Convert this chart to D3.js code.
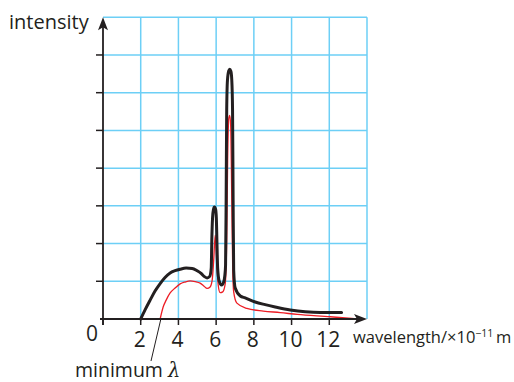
<!DOCTYPE html>
<html>
<head>
<meta charset="utf-8">
<script src="https://cdn.jsdelivr.net/npm/d3@7"></script>
<style>
  html, body { margin: 0; padding: 0; background: #fff; }
  svg { display: block; }
  text { font-family: "Open Sans", "Noto Sans", sans-serif; fill: #231f20; }
</style>
</head>
<body>
<svg id="chart" width="514" height="382"></svg>
<script>
// ---- data ----
const xTickValues = [0, 2, 4, 6, 8, 10, 12];
const xTickLabels = ["0", "2", "4", "6", "8", "10", "12"];
const yTickValues = [1, 2, 3, 4, 5, 6, 7];
const gridX = [2, 4, 6, 8, 10, 12, 14];
const gridY = [1, 2, 3, 4, 5, 6, 7, 8];

// black spectrum (higher accelerating voltage)
const blackLambda = [2.0, 2.23, 2.5, 2.76, 3.03, 3.29, 3.56, 3.82, 4.09, 4.41, 4.73, 4.99, 5.2, 5.36,
  5.52, 5.66, 5.74, 5.77, 5.81, 5.86, 5.91, 5.97, 6.01, 6.04, 6.08, 6.16, 6.29, 6.4,
  6.46, 6.5, 6.53, 6.56, 6.6, 6.67, 6.72, 6.78, 6.83, 6.87, 6.9, 6.93, 7.01, 7.28,
  7.54, 8.07, 8.6, 9.13, 9.93, 10.73, 11.53, 12.65];
const blackIntensity = [0, 0.24, 0.5, 0.74, 0.94, 1.10, 1.22, 1.28, 1.32, 1.35, 1.34, 1.28, 1.21, 1.13,
  1.09, 1.13, 1.35, 2.09, 2.68, 2.91, 2.97, 2.91, 2.68, 2.09, 1.35, 1.01, 0.90, 0.98,
  1.15, 1.43, 3.15, 5.54, 6.33, 6.58, 6.62, 6.57, 6.33, 5.54, 3.15, 1.30, 0.82, 0.61,
  0.56, 0.45, 0.38, 0.32, 0.24, 0.19, 0.17, 0.17];

// red spectrum (lower accelerating voltage)
const redLambda = [3.03, 3.19, 3.35, 3.56, 3.82, 4.09, 4.35, 4.62, 4.89, 5.15, 5.36, 5.52, 5.68, 5.79,
  5.87, 5.95, 6.03, 6.11, 6.21, 6.35, 6.48, 6.56, 6.61, 6.67, 6.72, 6.77, 6.83, 6.88,
  6.93, 7.1, 7.63, 8.5, 9.4, 10.3, 12.05, 13.5];
const redIntensity = [0, 0.32, 0.50, 0.69, 0.82, 0.93, 0.98, 1.01, 0.99, 0.95, 0.87, 0.81, 0.85, 1.03,
  1.56, 2.22, 1.51, 0.90, 0.70, 0.72, 0.93, 2.09, 4.21, 5.32, 5.40, 5.14, 3.15, 1.30,
  0.72, 0.42, 0.28, 0.21, 0.17, 0.12, 0.06, 0.0];

// ---- drawing ----
const svg = d3.select("#chart");
const ink = "#231f20";
const gridColor = "#6dcff6";

const x = d3.scaleLinear().domain([0, 14]).range([103, 367]);
const y = d3.scaleLinear().domain([0, 8]).range([319, 17.25]);

// grid
svg.append("g").selectAll("line").data(gridX).join("line")
  .attr("x1", d => x(d)).attr("x2", d => x(d))
  .attr("y1", y(0)).attr("y2", y(8))
  .attr("stroke", gridColor).attr("stroke-width", 1.5);
svg.append("g").selectAll("line").data(gridY).join("line")
  .attr("x1", x(0)).attr("x2", x(14))
  .attr("y1", d => y(d)).attr("y2", d => y(d))
  .attr("stroke", gridColor).attr("stroke-width", 1.5);

// curves
const line = d3.line().x(d => x(d[0])).y(d => y(d[1])).curve(d3.curveMonotoneX);
const redPts = redLambda.map((l, i) => [l, redIntensity[i]]);
const blackPts = blackLambda.map((l, i) => [l, blackIntensity[i]]);

svg.append("path").datum(redPts).attr("d", line)
  .attr("fill", "none").attr("stroke", "#ed1c24").attr("stroke-width", 1.3)
  .attr("stroke-linejoin", "round");
svg.append("path").datum(blackPts).attr("d", line)
  .attr("fill", "none").attr("stroke", ink).attr("stroke-width", 3)
  .attr("stroke-linejoin", "round").attr("stroke-linecap", "round");

// axes lines
svg.append("line").attr("x1", x(0) - 3).attr("x2", x(14) - 8)
  .attr("y1", y(0)).attr("y2", y(0)).attr("stroke", ink).attr("stroke-width", 1.8);
svg.append("line").attr("x1", x(0)).attr("x2", x(0))
  .attr("y1", y(0) + 6).attr("y2", y(8) + 8).attr("stroke", ink).attr("stroke-width", 1.8);

// arrowheads
svg.append("path")
  .attr("d", `M${x(14)},${y(0)} L${x(14) - 13},${y(0) - 5} L${x(14) - 10},${y(0)} L${x(14) - 13},${y(0) + 5} Z`)
  .attr("fill", ink);
svg.append("path")
  .attr("d", `M${x(0)},${y(8)} L${x(0) - 5},${y(8) + 13} L${x(0)},${y(8) + 10} L${x(0) + 5},${y(8) + 13} Z`)
  .attr("fill", ink);

// ticks
svg.append("g").selectAll("line").data(xTickValues).join("line")
  .attr("x1", d => x(d)).attr("x2", d => x(d))
  .attr("y1", y(0)).attr("y2", y(0) + 6)
  .attr("stroke", ink).attr("stroke-width", 1.5);
svg.append("g").selectAll("line").data(yTickValues).join("line")
  .attr("x1", x(0) - 7).attr("x2", x(0))
  .attr("y1", d => y(d)).attr("y2", d => y(d))
  .attr("stroke", ink).attr("stroke-width", 1.5);

// tick labels
svg.append("g").selectAll("text").data(xTickValues).join("text")
  .attr("x", (d, i) => i === 0 ? x(d) - 11 : x(d) - 1)
  .attr("y", (d, i) => i === 0 ? 341 : 347)
  .attr("text-anchor", "middle")
  .attr("font-size", 21)
  .text((d, i) => xTickLabels[i]);

// axis titles
svg.append("text").attr("x", 9).attr("y", 29).attr("font-size", 20).text("intensity");

const xt = svg.append("text").attr("x", 353).attr("y", 343).attr("font-size", 16.5);
xt.append("tspan").text("wavelength/×10");
xt.append("tspan").attr("dy", -6).attr("font-size", 10.5).text("−11");
xt.append("tspan").attr("dy", 6).text("\u2009m");

const mt = svg.append("text").attr("x", 75).attr("y", 377).attr("font-size", 19.5);
mt.append("tspan").text("minimum ");
mt.append("tspan").attr("font-family", "'DejaVu Serif', 'Liberation Serif', serif")
  .attr("font-style", "italic").text("λ");

// pointer line
svg.append("line").attr("x1", 151).attr("y1", 361).attr("x2", x(3.03) + 0.5).attr("y2", y(0) + 1)
  .attr("stroke", ink).attr("stroke-width", 1);
</script>
</body>
</html>
